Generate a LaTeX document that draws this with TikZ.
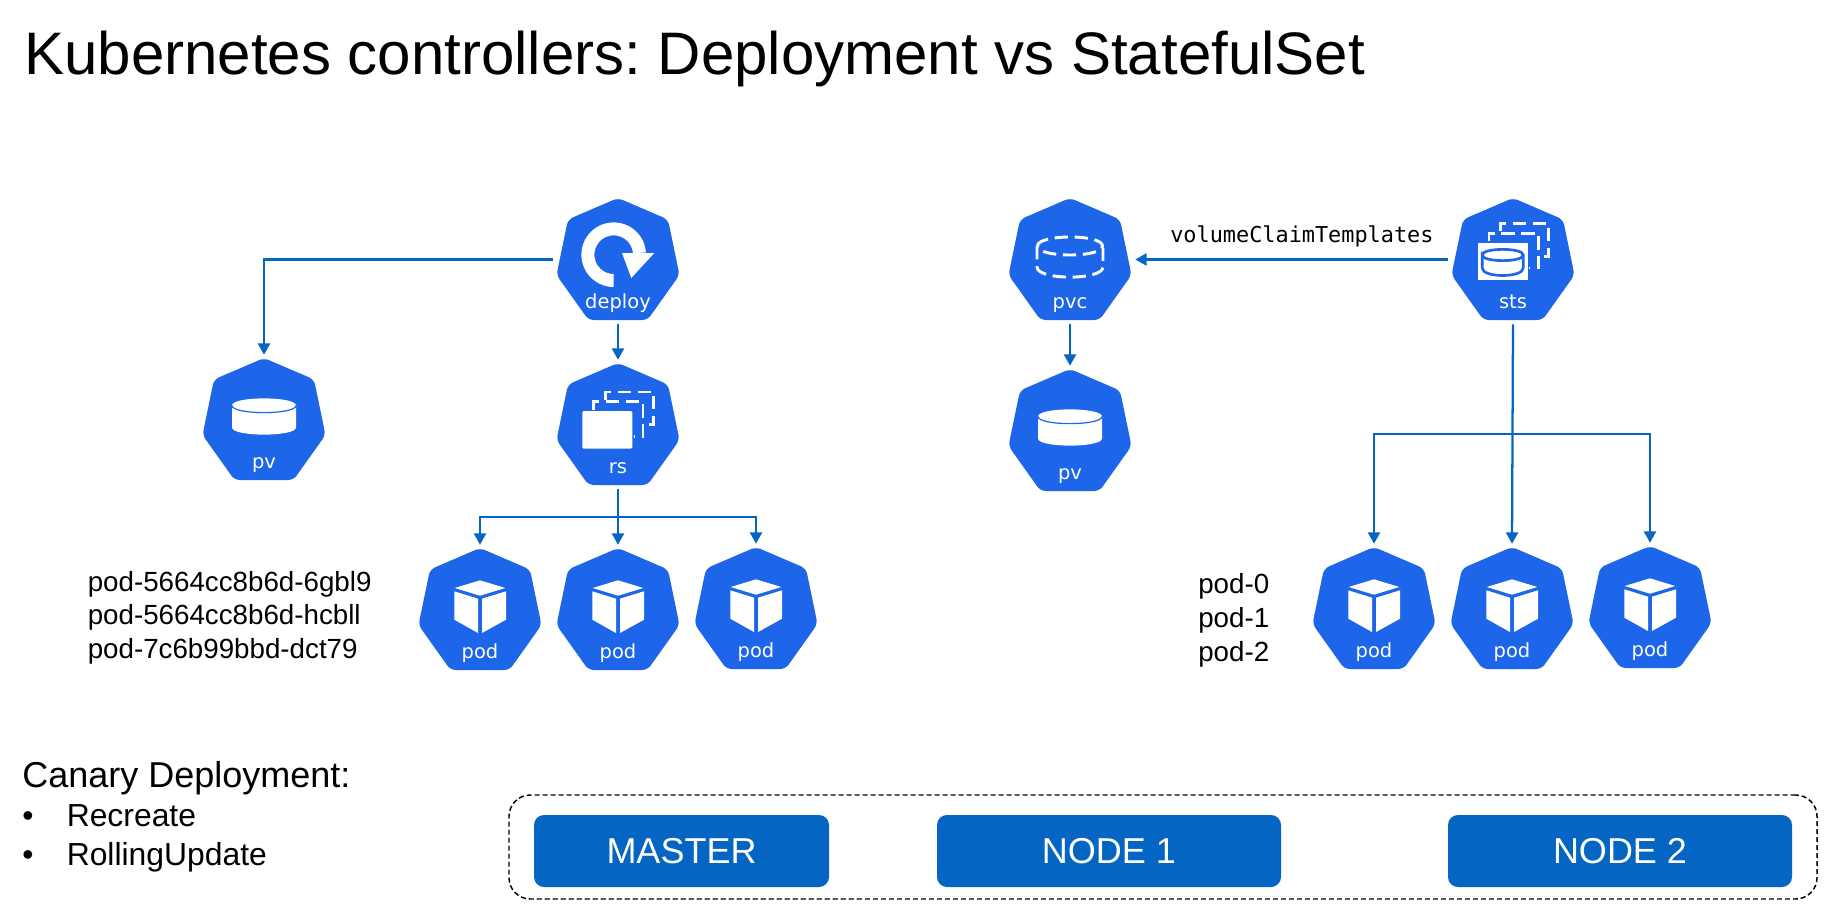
\documentclass[tikz,border=0pt]{standalone}
\usepackage{fontspec}
\setmainfont{Liberation Sans}
\newfontfamily\lblfont{DejaVu Sans}
\newfontfamily\codefont{DejaVu Sans Mono}
\usetikzlibrary{arrows.meta}
\definecolor{kblue}{HTML}{1D66EA}
\definecolor{lineblue}{HTML}{0466C2}
\newcommand{\fsz}[1]{\fontsize{#1}{#1}\selectfont}
\frenchspacing
\tikzset{
  hbox/.style={minimum width=97.5pt,minimum height=96.75pt,inner sep=0pt},
  hlabel/.style={anchor=base,inner sep=0pt,text=white,font=\lblfont\fsz{14.6}},
  conn/.style={draw=lineblue,line width=1.7pt},
  arr/.style={conn,-{Triangle[width=9pt,length=8.5pt]}},
  txt/.style={anchor=base west,inner sep=0pt,text=black},
  podtxt/.style={txt,font=\fsz{20.8}},
  bar/.style={fill=lineblue,text=white,rounded corners=7.5pt,minimum height=54pt,inner sep=0pt,font=\fsz{27}},
  dashw/.style={draw=white,line width=2.2pt,dash pattern=on 10pt off 5pt},
}
% heptagon: name, centre x, top y, label, icon
\newcommand{\hept}[5]{%
  \fill[kblue,rounded corners=4pt] (#2,#3) ++(0,121) -- ++(29.5,0) -- ++(32,-45) -- ++(-11.5,-55.5) -- ++(-50,-21.5) -- ++(-50,21.5) -- ++(-11.5,55.5) -- ++(32,45) -- cycle;
  \begin{scope}[shift={(#2,#3)}]#5\end{scope}
  \node[hbox] (#1) at (#2,#3+60.5) {};
  \node[hlabel] (#1-label) at (#2,#3+109.5) {#4};
}
\newcommand{\iconpod}{%
  \fill[white] (-25.3,39) -- (0,31.3) -- (25.3,39) -- (0,46.7) -- cycle;
  \fill[white] (-25.7,42.3) -- (-2,49.7) -- (-2,84) -- (-25.7,70.7) -- cycle;
  \fill[white] (2,49.7) -- (26,42.3) -- (26,70.7) -- (2,84) -- cycle;
}
\newcommand{\iconpv}{%
  \fill[white] (-32,46.5) .. controls (-32,37) and (32,37) .. (32,46.5) -- (32,68.5) .. controls (32,78) and (-32,78) .. (-32,68.5) -- cycle;
  \draw[kblue,line width=0.9pt] (-32,46.5) .. controls (-32,56) and (32,56) .. (32,46.5);
}
\newcommand{\iconpvc}{%
  \draw[dashw] (-32.5,47) .. controls (-32.5,35) and (32.5,35) .. (32.5,47) .. controls (32.5,59) and (-32.5,59) .. (-32.5,47);
  \draw[dashw] (-33,47) -- (-33,68) .. controls (-33,81.5) and (33,81.5) .. (33,68) -- (33,47);
}
\newcommand{\iconrs}{%
  \fill[white,rounded corners=1pt] (-35.7,47) rectangle (14.3,84.7);
  \draw[dashw] (-24.3,45.7) -- (-24.3,37.7) -- (25,37.7) -- (25,72.3) -- (15.7,72.3);
  \draw[dashw] (-12.7,35.7) -- (-12.7,28) -- (35.7,28) -- (35.7,60.7) -- (25,60.7);
}
\newcommand{\iconsts}{%
  \fill[white] (-35.3,44) rectangle (14.7,81.3);
  \draw[dashw] (-24,42.3) -- (-24,34.7) -- (25.7,34.7) -- (25.7,69) -- (15.7,69);
  \draw[dashw] (-12.7,32.3) -- (-12.7,24.7) -- (35.7,24.7) -- (35.7,57.3) -- (25.7,57.3);
  \draw[kblue,line width=2pt] (-30.8,56) .. controls (-30.8,48.5) and (10.2,48.5) .. (10.2,56) .. controls (10.2,63.5) and (-30.8,63.5) .. (-30.8,56) -- (-30.8,69) .. controls (-30.8,79) and (10.2,79) .. (10.2,69) -- (10.2,56);
}
\newcommand{\icondeploy}{%
  \fill[white] plot[domain=90:356,samples=50] ({-4.3+32.3*cos(\x)},{55.7+32.3*sin(\x)}) -- plot[domain=356:90,samples=50] ({-4.3+19.3*cos(\x)},{55.7+19.3*sin(\x)}) -- cycle;
  \fill[white] (4,54) -- (36.3,54) -- (13.3,79) -- cycle;
}
\begin{document}
\begin{tikzpicture}[x=0.75pt,y=-0.75pt]
\useasboundingbox (0,0) rectangle (1834,913);
\fill[white] (0,0) rectangle (1834,913);

\node[txt,font=\fsz{45}] (title) at (24,75) {Kubernetes controllers: Deployment vs StatefulSet};

% left side
\hept{deploy}{618}{199}{deploy}{\icondeploy}
\hept{pvA}{264}{359}{pv}{\iconpv}
\hept{rs}{618}{364}{rs}{\iconrs}
\hept{podA}{480}{549}{pod}{\iconpod}
\hept{podB}{618}{549}{pod}{\iconpod}
\hept{podC}{756}{548}{pod}{\iconpod}
% right side
\hept{pvc}{1070}{199}{pvc}{\iconpvc}
\hept{pvB}{1070}{370}{pv}{\iconpv}
\hept{sts}{1513}{199}{sts}{\iconsts}
\hept{podD}{1374}{548}{pod}{\iconpod}
\hept{podE}{1512}{548}{pod}{\iconpod}
\hept{podF}{1650}{547}{pod}{\iconpod}

% connectors
\coordinate (busL) at (618,517);
\coordinate (busR) at (1513,434);
\draw[arr] (deploy.west) -| (pvA.north);
\draw[arr] (deploy.south) -- (rs.north);
\draw[arr] (rs.south) -- (podB.north);
\draw[arr] (busL) -| (podA.north);
\draw[arr] (busL) -| (podC.north);
\draw[arr] (sts.west) -- (pvc.east);
\draw[arr] (pvc.south) -- (pvB.north);
\draw[arr] (sts.south) -- (podE.north);
\draw[arr] (busR) -| (podD.north);
\draw[arr] (busR) -| (podF.north);

\node[txt,font=\codefont\fsz{16.4}] (vct) at (1170,242) {volumeClaimTemplates};

% pod names
\node[podtxt] (n1) at (87.5,591) {pod-5664cc8b6d-6gbl9};
\node[podtxt] (n2) at (87.5,624.5) {pod-5664cc8b6d-hcbll};
\node[podtxt] (n3) at (87.5,658) {pod-7c6b99bbd-dct79};
\node[podtxt] (m1) at (1198,593) {pod-0};
\node[podtxt] (m2) at (1198,627) {pod-1};
\node[podtxt] (m3) at (1198,661) {pod-2};

% canary list
\node[txt,font=\fsz{27}] (canary) at (22,787) {Canary Deployment:};
\node[txt,font=\fsz{23.9}] (b1) at (22,826) {•};
\node[txt,font=\fsz{23.9}] (i1) at (66.5,826) {Recreate};
\node[txt,font=\fsz{23.9}] (b2) at (22,865) {•};
\node[txt,font=\fsz{23.9}] (i2) at (66.5,865) {RollingUpdate};

% cluster
\node[draw=black,line width=1.1pt,dash pattern=on 3.8pt off 2.2pt,rounded corners=16pt,minimum width=981pt,minimum height=78pt,inner sep=0pt] (cluster) at (1163,847) {};
\node[bar,minimum width=221.25pt] (master) at (681.5,851) {MASTER};
\node[bar,minimum width=258pt] (node1) at (1109,851) {NODE 1};
\node[bar,minimum width=258pt] (node2) at (1620,851) {NODE 2};
\end{tikzpicture}
\end{document}
